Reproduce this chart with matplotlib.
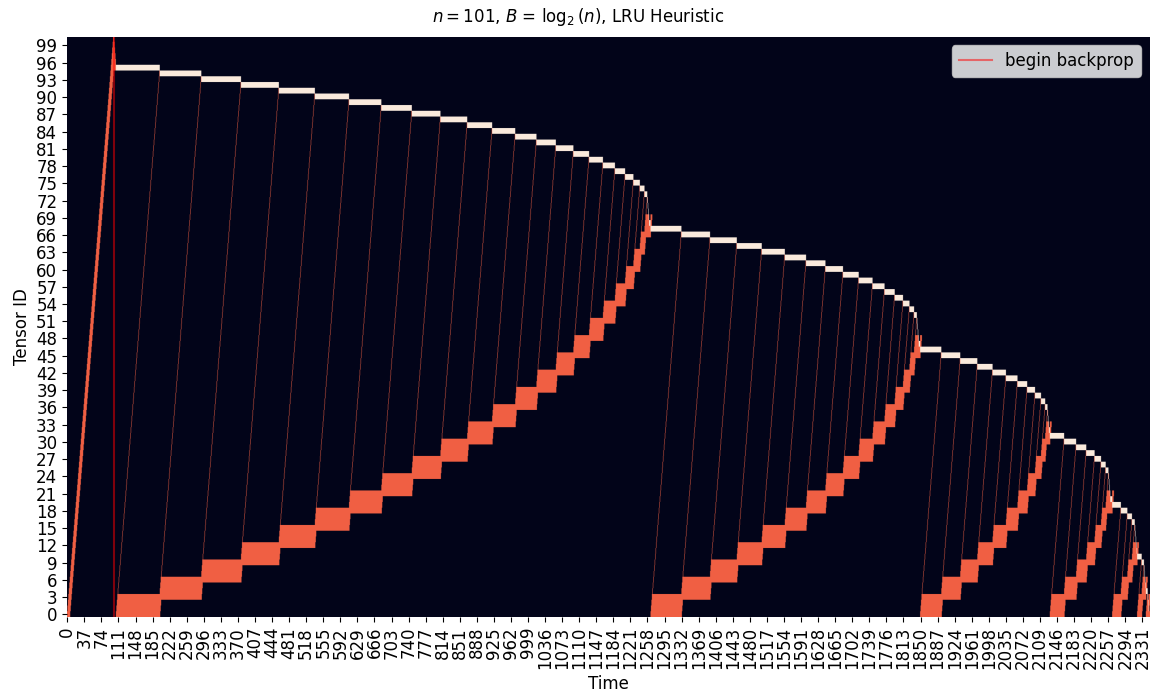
import numpy as np
import matplotlib
matplotlib.use("Agg")
import matplotlib.pyplot as plt
import seaborn as sns

N_TENSORS = 101
N_STEPS = 2346
BACKPROP_START = 101
BUDGET = 7

# cell codes of the memory matrix
EMPTY, IN_MEMORY, TARGET = 0, 2, 3

# tensor whose gradient is pending when each recompute phase begins
phase_targets = [95, 67, 46, 31, 19, 10, 4, 1]
# start time of every recompute sweep in a phase, last entry = end of that phase
phase_steps = [
    [106, 201, 291, 377, 459, 537, 611, 681, 747, 809, 867, 921, 971, 1017,
     1059, 1097, 1131, 1161, 1187, 1209, 1227, 1241, 1251, 1257],
    [1264, 1331, 1393, 1451, 1505, 1555, 1601, 1643, 1681, 1715, 1745, 1771,
     1793, 1811, 1825, 1835, 1841],
    [1848, 1894, 1935, 1972, 2005, 2034, 2059, 2080, 2097, 2110, 2119, 2124],
    [2129, 2160, 2186, 2208, 2226, 2240, 2250, 2256],
    [2264, 2283, 2297, 2307, 2313],
    [2318, 2328, 2333],
    [2337, 2341],
    [2343, 2344],
]
CKPT_STRIDE = 3


def build_memory():
    mem = np.zeros((N_TENSORS, N_STEPS))

    # forward pass, LRU keeps the last BUDGET tensors
    for i in range(N_TENSORS):
        mem[i, i:min(i + BUDGET, BACKPROP_START)] = IN_MEMORY
    # live tensors at the top are freed one by one as backprop walks down
    for i in range(95, N_TENSORS):
        mem[i, BACKPROP_START:BACKPROP_START + (N_TENSORS - i)] = IN_MEMORY

    for p, (top, steps) in enumerate(zip(phase_targets, phase_steps)):
        n_ckpt = len(steps) - 1
        next_start = phase_steps[p + 1][0] if p + 1 < len(phase_steps) else N_STEPS
        for k in range(n_ckpt):
            t0, t1 = steps[k], steps[k + 1]
            target = top - k
            mem[target, t0:t1] = TARGET
            lo = 0 if k == 0 else CKPT_STRIDE * k + 1
            base = CKPT_STRIDE * k
            last = k == n_ckpt - 1
            follow = next_start if last else t1
            for r in range(lo, target):
                c = t0 + (r - lo)
                m = r - base
                if 0 <= m <= CKPT_STRIDE:
                    # checkpoint kept until it is evicted in the following sweep
                    end = follow + m + 1 if (m < CKPT_STRIDE or last) else t1
                    mem[r, c:end] = np.maximum(mem[r, c:end], IN_MEMORY)
                else:
                    mem[r, c] = IN_MEMORY
            if k > 0:
                mem[base, t0:follow + 1] = np.maximum(mem[base, t0:follow + 1], IN_MEMORY)

        # tail: remaining targets already in memory are consumed quickly
        end = steps[-1]
        low = CKPT_STRIDE * (n_ckpt - 1) + 2
        tail = list(range(top - n_ckpt, low - 1, -1))
        for i, r in enumerate(tail):
            c0 = end + i
            c1 = next_start if i == len(tail) - 1 else c0 + 1
            mem[r, c0:c1] = TARGET
            mem[r, c1:next_start] = EMPTY
    return mem


mem = build_memory()

plt.rcParams["font.size"] = 12
fig = plt.figure(figsize=(11.56, 6.95), dpi=100)
ax = fig.add_axes([0.058, 0.112, 0.936, 0.835])
cmap = sns.color_palette("rocket", as_cmap=True)
# rows repeated so the resampling filter keeps row edges sharp
ax.imshow(np.repeat(mem, 8, axis=0), origin="lower", aspect="auto", cmap=cmap,
          vmin=0, vmax=3, extent=(0, N_STEPS, 0, N_TENSORS),
          interpolation="antialiased", interpolation_stage="rgba")

ax.axvline(BACKPROP_START, color="red", alpha=0.5, label="begin backprop")
ax.legend(loc="upper right")

xt = np.arange(0, N_STEPS, 37)
yt = np.arange(0, N_TENSORS, 3)
ax.set_xticks(xt + 0.5)
ax.set_xticklabels([str(v) for v in xt], rotation=90)
ax.set_yticks(yt + 0.5)
ax.set_yticklabels([str(v) for v in yt], rotation=0)
ax.set_xlim(0, N_STEPS)
ax.set_ylim(0, N_TENSORS)
for s in ax.spines.values():
    s.set_visible(False)

ax.set_xlabel("Time")
ax.set_ylabel("Tensor ID")
fig.suptitle(r"$n = 101$, $B$ = $\log_2(n)$, LRU Heuristic", fontsize=12,
             y=0.992, va="top")

fig.savefig("out.png", dpi=100)
